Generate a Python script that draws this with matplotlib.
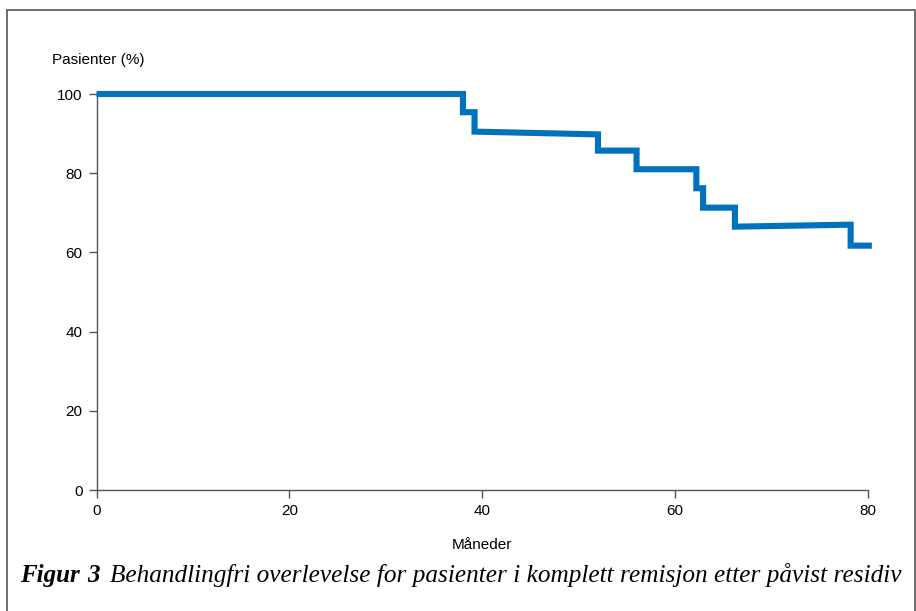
import matplotlib
matplotlib.use("Agg")
import matplotlib.pyplot as plt
from matplotlib.patches import Rectangle

# step curve vertices (months, % patients)
months = [0, 38.0, 38.0, 39.2, 39.2, 52.0, 52.0, 56.0, 56.0, 62.2, 62.2,
          62.9, 62.9, 66.2, 66.2, 78.2, 78.2, 80.4]
patients = [100, 100, 95.4, 95.4, 90.5, 89.8, 85.7, 85.7, 81.0, 81.0, 76.2,
            76.2, 71.3, 71.3, 66.5, 67.0, 61.7, 61.7]
xticks = [0, 20, 40, 60, 80]
yticks = [0, 20, 40, 60, 80, 100]

W, H = 916, 611
fig = plt.figure(figsize=(W / 100, H / 100), dpi=100)
ax = fig.add_axes([96.5 / W, 1 - 490 / H, (868 - 96.5) / W, (490 - 94) / H])

ax.plot(months, patients, color="#0071bc", lw=4.4, solid_joinstyle="miter",
        solid_capstyle="butt", clip_on=False, zorder=3)

ax.set_xlim(0, 80)
ax.set_ylim(0, 100)
ax.set_xticks(xticks)
ax.set_yticks(yticks)
for s in ["top", "right"]:
    ax.spines[s].set_visible(False)
for s in ["left", "bottom"]:
    ax.spines[s].set_color("#555555")
    ax.spines[s].set_linewidth(1.0)
ax.tick_params(axis="both", direction="out", length=6, width=1.0,
               color="#555555", labelsize=11, labelcolor="black", pad=4)
for lab in ax.get_xticklabels() + ax.get_yticklabels():
    lab.set_family("Liberation Sans")

fig.text(52 / W, 1 - 60 / H, "Pasienter (%)", family="Liberation Sans",
         fontsize=11, va="center", ha="left")
fig.text(482 / W, 1 - 545 / H, "Måneder", family="Liberation Sans",
         fontsize=11, va="center", ha="center")

# caption, all on one baseline
cap_y = 1 - 582 / H
fig.text(20 / W, cap_y, "Figur", family="Liberation Serif",
         style="italic", weight="bold", fontsize=18, va="baseline", ha="left")
fig.text(87 / W, cap_y, "3", family="Liberation Serif",
         style="italic", weight="bold", fontsize=18, va="baseline", ha="left")
fig.text(110 / W, cap_y,
         "Behandlingfri overlevelse for pasienter i komplett remisjon etter påvist residiv",
         family="Liberation Serif", style="italic", fontsize=18.2,
         va="baseline", ha="left")

# frame around the whole figure
fig.patches.append(Rectangle((7 / W, -0.05), (915 - 7) / W, 1.05 - 10 / H,
                             transform=fig.transFigure, fill=False,
                             edgecolor="#555555", lw=1.2))

fig.savefig("out.png", dpi=100)
